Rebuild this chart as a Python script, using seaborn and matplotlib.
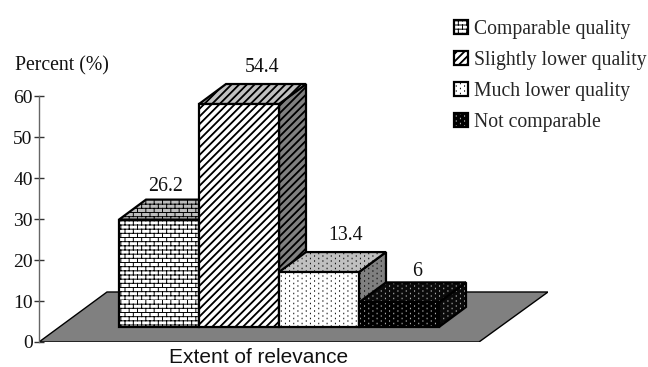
import warnings

import numpy as np
import pandas as pd
import matplotlib
matplotlib.use("Agg")
import matplotlib.pyplot as plt
import matplotlib.hatch as mhatch
from matplotlib.colors import to_rgba
from matplotlib.patches import Patch, Polygon
from matplotlib.path import Path
import seaborn as sns

warnings.filterwarnings("ignore")

# podaci sa slike
categories = ["Comparable quality", "Slightly lower quality", "Much lower quality", "Not comparable"]
values = [26.2, 54.4, 13.4, 6]
value_labels = ["26.2", "54.4", "13.4", "6"]
y_ticks = [0, 10, 20, 30, 40, 50, 60]

# izgled
hatches = ["B", "S", "D", "D"]
front_colors = ["white", "white", "white", "black"]
top_colors = ["#bdbdbd", "#c0c0c0", "#c0c0c0", "#0a0a0a"]
side_colors = ["#808080", "#808080", "#808080", "#0a0a0a"]
hatch_colors = ["black", "black", "black", "#c0c0c0"]
label_dx = [-5.2, 7, 9.3, 3]   # pomeraj natpisa u tackama
label_dy = [9.6, 11.6, 11.6, 7.6]

BASE = 3.66      # prednja ivica stubova iznad nule
DEPTH_X = 0.3375
DEPTH_Y = 4.88


# matplotlib nema ove sablone
class SegmentHatch(mhatch.HatchPatternBase):
    char = ""

    def __init__(self, hatch, density):
        self.used = self.char in hatch
        self.segs = self.segments() if self.used else []
        self.num_vertices = len(self.segs) * 2

    def set_vertices_and_codes(self, vertices, codes):
        if not self.used:
            return
        vertices[:] = np.array(self.segs).reshape(-1, 2)
        codes[0::2] = Path.MOVETO
        codes[1::2] = Path.LINETO


class BrickHatch(SegmentHatch):
    char = "B"

    def segments(self):
        rows, cols = 24, 12
        segs = []
        for r in range(rows):
            y0, y1 = r / rows, (r + 1) / rows
            segs.append(((0, y0), (1, y0)))
            shift = 0.5 * (r % 2) / cols
            for c in range(cols):
                x = c / cols + shift
                segs.append(((x, y0), (x, y1)))
        return segs


class SlantHatch(SegmentHatch):
    char = "S"

    def segments(self):
        n = 13
        segs = []
        for k in range(-n, n + 1):
            for d in (0, 0.012):
                x = k / n + d
                segs.append(((x, 0), (x + 1, 1)))
        return segs


class DotHatch(SegmentHatch):
    char = "D"

    def segments(self):
        rows, cols = 40, 24
        segs = []
        for r in range(rows):
            for c in range(cols):
                if (r + c) % 2 == 0:
                    x, y = (c + 0.5) / cols, (r + 0.5) / rows
                    segs.append(((x, y), (x, y + 0.005)))
        return segs


mhatch._hatch_types.extend([BrickHatch, SlantHatch, DotHatch])

sns.set_style("white")
plt.rcParams["font.family"] = ["Liberation Serif", "DejaVu Serif"]
plt.rcParams["hatch.linewidth"] = 0.7

fig = plt.figure(figsize=(6.48, 3.67), dpi=100)
ax = fig.add_axes([39 / 648, 25 / 367, 509 / 648, 282 / 367])

df = pd.DataFrame({"kategorija": categories, "procenat": values})
sns.barplot(data=df, x="kategorija", y="procenat", color="white", width=1,
            saturation=1, edgecolor="black", linewidth=1.6, ax=ax)

# pod grafika
floor = Polygon([(-1.5, 0), (-0.65, 12.2), (4.8625, 12.2), (4.0, 0)], closed=True,
                facecolor="#808080", edgecolor="black", linewidth=1, zorder=1)
ax.add_patch(floor)

# stubovi: prednja strana iz seaborn-a, gornja i bocna se dodaju
for i, bar in enumerate(ax.containers[0]):
    x0 = bar.get_x()
    x1 = x0 + bar.get_width()
    top = BASE + values[i]
    z = 3 + i
    bar.set_y(BASE)
    bar.set_facecolor(front_colors[i])
    bar.set_hatch(hatches[i])
    bar._hatch_color = to_rgba(hatch_colors[i])
    bar.set_zorder(z + 0.2)

    side = Polygon([(x1, BASE), (x1 + DEPTH_X, BASE + DEPTH_Y),
                    (x1 + DEPTH_X, top + DEPTH_Y), (x1, top)], closed=True,
                   facecolor=side_colors[i], edgecolor="black", linewidth=1.6,
                   hatch=hatches[i], zorder=z)
    roof = Polygon([(x0, top), (x0 + DEPTH_X, top + DEPTH_Y),
                    (x1 + DEPTH_X, top + DEPTH_Y), (x1, top)], closed=True,
                   facecolor=top_colors[i], edgecolor="black", linewidth=1.6,
                   hatch=hatches[i], zorder=z + 0.1)
    side._hatch_color = to_rgba(hatch_colors[i])
    roof._hatch_color = to_rgba(hatch_colors[i])
    ax.add_patch(side)
    ax.add_patch(roof)

    ax.annotate(value_labels[i], ((x0 + x1) / 2 + DEPTH_X / 2, top + DEPTH_Y),
                xytext=(label_dx[i], label_dy[i]), textcoords="offset points",
                ha="center", va="center", fontsize=14.3, color="#111111", zorder=20)

ax.set_xlim(-1.5, 4.8625)
ax.set_ylim(0, 68.8)
ax.set_yticks(y_ticks)
ax.set_xticks([])
ax.set_ylabel("")
ax.set_xlabel("Extent of relevance", x=0.431, labelpad=4, fontsize=15,
              family="Liberation Sans", color="#111111")
ax.tick_params(axis="y", left=True, direction="inout", length=7, width=1,
               color="#333333", labelsize=14, pad=1, labelcolor="#111111")

sns.despine(ax=ax, bottom=True)
ax.spines["left"].set_bounds(0, 60)
ax.spines["left"].set_color("#666666")
ax.spines["left"].set_linewidth(1)

fig.text(15 / 648, 1 - 66 / 367, "Percent (%)", fontsize=14.2, va="center", color="#111111")

# legenda
handles = []
for i, name in enumerate(categories):
    h = Patch(facecolor=front_colors[i], edgecolor="black", linewidth=1.6,
              hatch=hatches[i], label=name)
    h._hatch_color = to_rgba(hatch_colors[i])
    handles.append(h)
ax.legend(handles=handles, loc="upper left", bbox_to_anchor=(454 / 648, 1 - 20 / 367),
          bbox_transform=fig.transFigure, frameon=False, fontsize=14.2,
          handlelength=0.7, handleheight=0.7, handletextpad=0.3,
          labelspacing=0.6, borderaxespad=0, borderpad=0)

fig.savefig("out.png", dpi=100)
